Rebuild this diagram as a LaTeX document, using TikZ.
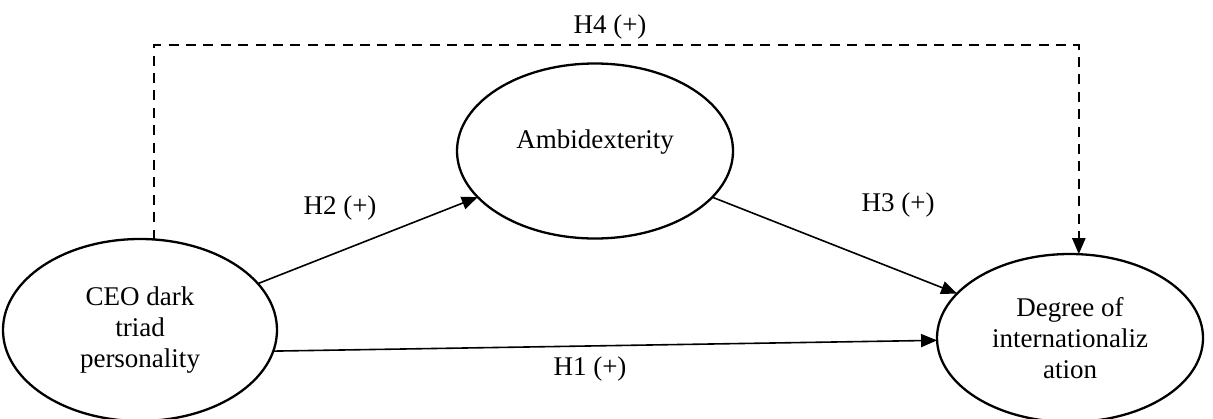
\documentclass[tikz,border=0pt]{standalone}
\usepackage{fontspec}
\setmainfont{Liberation Serif}
\usetikzlibrary{shapes.geometric,arrows.meta}

\tikzstyle{varNode} = [ellipse, draw=black, line width=1.15pt, inner sep=0pt, outer sep=0pt, align=center, font=\fontsize{13.5}{15.5}\selectfont]
\tikzstyle{hypLabel} = [font=\fontsize{13.5}{15}\selectfont]
\tikzstyle{arrow} = [line width=0.8pt,-{Triangle[length=8pt,width=6.5pt]}]
\tikzstyle{dasharrow} = [arrow, line width=1.1pt, dash pattern=on 5pt off 3.7pt]

\begin{document}
\begin{tikzpicture}[x=0.5pt,y=-0.5pt]
    \useasboundingbox (0,0) rectangle (1213,418);

    \node (ceo)[varNode, minimum width=137pt, minimum height=91pt] at (140,330) {CEO dark\\triad\\personality};
    \node (ambi)[varNode, minimum width=138pt, minimum height=87.5pt, text depth=12pt] at (595,151) {Ambidexterity};
    \node (doi)[varNode, minimum width=133pt, minimum height=84pt] at (1070,338) {Degree of\\internationaliz\\ation};

    \node (h1)[hypLabel] at (590,369) {H1 (+)};
    \node (h2)[hypLabel] at (340,208) {H2 (+)};
    \node (h3)[hypLabel] at (898,205) {H3 (+)};
    \node (h4)[hypLabel] at (610,27) {H4 (+)};

    \coordinate (rail) at (600,45);

    \draw [arrow] (ceo) -- (ambi);
    \draw [arrow] (ambi) -- (doi);
    \draw [arrow] (ceo.-9) -- (doi.181);
    \draw [dasharrow] (ceo.81) |- (rail) -| (doi.84);

\end{tikzpicture}
\end{document}
